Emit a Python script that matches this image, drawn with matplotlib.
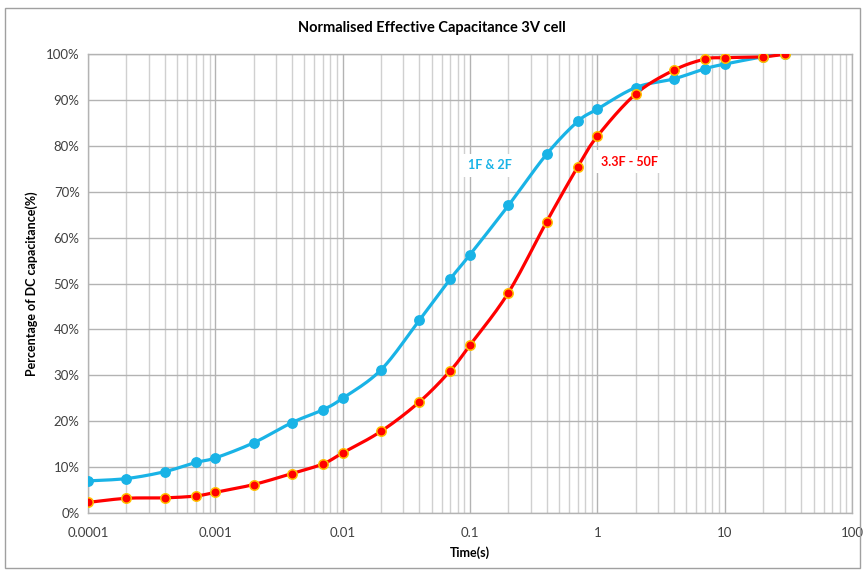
import numpy as np
import matplotlib
matplotlib.use("Agg")
import matplotlib.pyplot as plt
from matplotlib.ticker import LogLocator, FixedLocator, FuncFormatter, NullFormatter
from matplotlib.patches import Rectangle

plt.rcParams['font.family'] = ['Lato', 'DejaVu Sans']

time_s = [0.0001, 0.0002, 0.0004, 0.0007, 0.001, 0.002, 0.004, 0.007, 0.01, 0.02,
          0.04, 0.07, 0.1, 0.2, 0.4, 0.7, 1, 2, 4, 7, 10, 20, 30]
small_cells = [7.0, 7.5, 9.0, 11.0, 12.0, 15.3, 19.7, 22.5, 25.0, 31.2,
               42.0, 51.0, 56.3, 67.0, 78.2, 85.3, 88.0, 92.7, 94.6, 96.8, 97.8, 99.4, 100.0]
large_cells = [2.3, 3.2, 3.3, 3.7, 4.5, 6.2, 8.6, 10.7, 13.1, 17.8,
               24.2, 31.0, 36.6, 48.0, 63.5, 75.4, 82.1, 91.3, 96.5, 98.9, 99.2, 99.4, 100.0]
series_names = ["1F & 2F", "3.3F - 50F"]
x_ticks = [0.0001, 0.001, 0.01, 0.1, 1, 10, 100]
x_tick_labels = ["0.0001", "0.001", "0.01", "0.1", "1", "10", "100"]


def smooth(xs, ys, n=20):
    # Catmull-Rom rendering of the line in log-x space (like a smoothed line)
    lx = np.log10(np.asarray(xs, float))
    y = np.asarray(ys, float)
    P = np.column_stack([lx, y])
    P = np.vstack([P[0], P, P[-1]])
    out = []
    t = np.linspace(0, 1, n, endpoint=False)
    for i in range(1, len(P) - 2):
        p0, p1, p2, p3 = P[i - 1], P[i], P[i + 1], P[i + 2]
        t2, t3 = t * t, t * t * t
        pts = 0.5 * ((2 * p1)[None, :] + (-p0 + p2)[None, :] * t[:, None]
                     + (2 * p0 - 5 * p1 + 4 * p2 - p3)[None, :] * t2[:, None]
                     + (-p0 + 3 * p1 - 3 * p2 + p3)[None, :] * t3[:, None])
        out.append(pts)
    out.append(P[-2][None, :])
    out = np.vstack(out)
    return 10 ** out[:, 0], out[:, 1]


fig = plt.figure(figsize=(8.64, 5.71), dpi=100)
ax = fig.add_axes([0.1019, 0.1016, 0.8843, 0.8038])
ax.set_xscale('log')
ax.set_xlim(1e-4, 100)
ax.set_ylim(0, 100)

blue = '#19b3e6'
red = '#ff0000'

sx, sy = smooth(time_s, small_cells)
ax.plot(sx, sy, color=blue, lw=2.3, zorder=3)
ax.plot(time_s, small_cells, 'o', color=blue, ms=6.8, mec=blue, zorder=4)
lx, ly = smooth(time_s, large_cells)
ax.plot(lx, ly, color=red, lw=2.3, zorder=3)
ax.plot(time_s, large_cells, 'o', color=red, ms=6.8, mec='#ffc000', mew=1.1, zorder=4)

ax.xaxis.set_major_locator(FixedLocator(x_ticks))
ax.xaxis.set_major_formatter(FuncFormatter(lambda v, p: x_tick_labels[x_ticks.index(v)] if v in x_ticks else ""))
ax.xaxis.set_minor_locator(LogLocator(base=10, subs=np.arange(2, 10), numticks=100))
ax.xaxis.set_minor_formatter(NullFormatter())
ax.set_yticks(np.arange(0, 101, 10))
ax.set_yticklabels([f"{v}%" for v in range(0, 101, 10)])

ax.grid(True, which='major', axis='both', color='#b3b3b3', lw=1.0, zorder=0)
ax.grid(True, which='minor', axis='x', color='#d0d0d0', lw=1.0, zorder=0)
ax.tick_params(axis='both', which='both', length=0, labelsize=9.5, colors='#404040')
ax.tick_params(axis='x', pad=10)
ax.tick_params(axis='y', pad=6)
for s in ax.spines.values():
    s.set_color('#b3b3b3')
    s.set_linewidth(1.0)

fig.text(0.5, 1 - 28 / 571, "Normalised Effective Capacitance 3V cell", fontsize=10.5,
         fontweight='bold', color='black', ha='center', va='center')
ax.set_xlabel("Time(s)", fontsize=9, fontweight='bold', labelpad=5)
ax.set_ylabel("Percentage of DC capacitance(%)", fontsize=9, fontweight='bold', labelpad=6)

ax.text(0.143, 75.8, series_names[0], color=blue, fontsize=9, fontweight='bold', ha='center',
        va='center', bbox=dict(facecolor='white', edgecolor='none', pad=4), zorder=5)
ax.text(1.78, 76.5, series_names[1], color=red, fontsize=9, fontweight='bold', ha='center',
        va='center', bbox=dict(facecolor='white', edgecolor='none', pad=4), zorder=5)

fig.patches.append(Rectangle((5 / 864, 3 / 571), 855 / 864, 560 / 571, transform=fig.transFigure,
                             fill=False, edgecolor='#a0a0a0', lw=1.0))

fig.savefig("out.png", dpi=100)
